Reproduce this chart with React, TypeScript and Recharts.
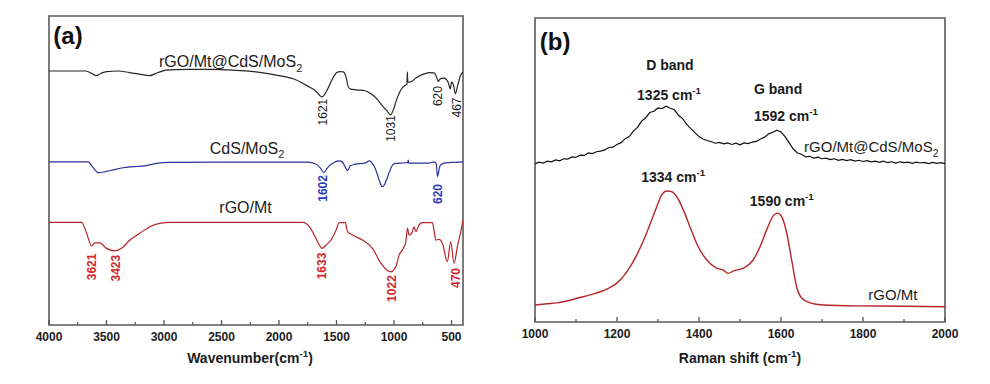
import React from 'react';
import { LineChart, Line, XAxis, YAxis, ReferenceDot, ReferenceArea } from 'recharts';

// ---------------- (a) FTIR data ----------------
const ftirCompositeWn = [4000,3750,3680,3620,3590,3550,3500,3400,3300,3200,3130,3050,2980,2800,2600,2400,2200,2000,1850,1750,1680,1626,1590,1540,1500,1470,1440,1415,1400,1380,1330,1260,1200,1157,1100,1060,1031,1000,984,950,929,897,887,884,880,860,810,750,695,650,630,615,600,565,530,510,500,480,467,445,420,400];
const ftirCompositeT = [82.2,82.2,82.2,81.2,80.7,81.4,82.0,82.2,81.7,81.1,80.7,81.7,82.5,82.7,82.7,82.5,81.9,80.7,79.3,77.3,75.7,73.8,75.4,79.3,81.6,82.0,81.9,79.9,77.3,76.4,76.1,75.9,74.8,73.5,70.9,69.3,68.0,70.2,72.2,75.4,76.7,77.7,78.0,81.9,78.6,78.6,79.9,81.1,81.7,81.6,80.3,78.8,79.6,79.9,78.6,76.4,78.6,77.3,74.8,77.7,80.9,81.9];

const ftirCdsWn = [4000,3700,3660,3620,3572,3500,3442,3370,3297,3230,3167,3066,2950,2500,2000,1750,1680,1640,1610,1580,1530,1480,1450,1420,1405,1380,1340,1250,1215,1190,1165,1140,1124,1105,1085,1066,1040,1022,990,900,880,877,872,800,700,650,632,622,612,600,573,500,400];
const ftirCdsT = [52.8,52.8,52.8,51.1,49.3,49.7,50.2,50.8,51.2,51.3,51.5,52.3,52.6,52.7,52.7,52.7,52.1,50.8,49.3,50.8,52.4,53.1,52.8,50.8,50.0,51.5,52.0,52.4,53.1,52.4,50.8,48.2,46.4,44.8,45.3,46.9,49.5,51.2,52.3,52.5,52.6,53.4,52.4,52.4,52.4,52.8,52.1,48.0,49.5,51.5,52.3,52.6,52.8];

const ftirRgoWn = [4000,3716,3673,3630,3601,3558,3500,3427,3369,3297,3210,3124,3037,2950,2500,2000,1794,1736,1693,1649,1626,1591,1548,1504,1476,1424,1404,1360,1274,1187,1114,1057,1027,984,955,926,912,897,883,868,840,825,810,782,753,666,652,637,608,579,536,507,478,449,405,400];
const ftirRgoT = [33.2,33.2,29.7,25.6,26.6,26.6,24.8,24.0,24.8,27.5,29.7,31.8,32.9,33.2,33.2,33.2,33.2,31.8,29.1,25.9,24.8,25.9,27.5,30.7,33.1,33.1,30.2,29.1,27.5,24.8,20.0,17.6,17.2,18.9,22.7,24.3,25.3,27.0,31.3,29.1,30.2,31.8,30.2,32.4,33.1,33.1,30.7,27.5,27.7,26.4,20.5,27.0,20.0,25.3,32.9,34.0];

const ftirTicks = [4000,3750,3500,3250,3000,2750,2500,2250,2000,1750,1500,1250,1000,750,500];

// peak annotations (text, wavenumber, transmittance level)
const compositePeakText = ['1621','1031','620','467'];
const compositePeakWn = [1623,1025,617,457];
const compositePeakT = [68.9,63.6,74.1,70.4];
const cdsPeakText = ['1602','620'];
const cdsPeakWn = [1619,617];
const cdsPeakT = [44.2,42.4];
const rgoPeakText = ['3621','3423','1633','1022','470'];
const rgoPeakWn = [3627,3419,1628,1020,461];
const rgoPeakT = [18.8,18.4,19.1,11.8,15.2];

const ftirNameText = ['rGO/Mt@CdS/MoS_{2}','CdS/MoS_{2}','rGO/Mt'];
const ftirNameWn = [2421,2278,2291];
const ftirNameT = [85.3,57.3,37.9];

// ---------------- (b) Raman data ----------------
const ramanCompositeShift = [1000,1010,1020,1030,1040,1050,1060,1070,1080,1090,1100,1110,1120,1130,1140,1150,1160,1170,1180,1190,1200,1210,1220,1230,1240,1250,1260,1270,1280,1290,1300,1310,1320,1330,1340,1350,1360,1370,1380,1390,1400,1410,1420,1430,1440,1450,1460,1470,1480,1490,1500,1510,1520,1530,1540,1550,1560,1570,1580,1590,1600,1610,1620,1630,1640,1650,1660,1670,1680,1690,1700,1710,1720,1730,1740,1750,1760,1770,1780,1790,1800,1810,1820,1830,1840,1850,1860,1870,1880,1890,1900,1910,1920,1930,1940,1950,1960,1970,1980,1990,2000];
const ramanCompositeI = [52.0,52.6,52.3,52.9,52.7,53.3,53.0,53.7,53.6,54.3,54.2,54.9,54.8,55.6,55.4,56.0,56.2,56.6,57.4,57.5,58.4,59.0,60.3,61.0,62.8,64.0,66.1,67.2,68.9,69.3,70.4,70.2,71.0,70.3,69.8,68.0,66.9,65.0,63.6,62.3,61.0,60.2,59.7,59.3,58.8,59.1,58.6,58.9,58.4,58.8,58.3,58.9,58.7,59.2,59.4,60.2,60.8,61.9,62.4,63.1,62.5,61.0,58.9,56.9,55.6,55.2,54.3,54.5,53.9,54.2,53.7,53.9,53.4,53.7,53.2,53.5,53.1,53.4,52.9,53.2,52.8,53.1,52.7,52.9,52.5,52.9,52.4,52.7,52.3,52.7,52.4,52.6,52.2,52.6,52.3,52.5,52.1,52.5,52.2,52.4,52.1];

const ramanRgoShift = [1000,1030,1053,1080,1102,1134,1175,1199,1224,1248,1272,1297,1309,1321,1333,1346,1362,1378,1394,1419,1443,1459,1471,1484,1508,1532,1549,1565,1581,1591,1602,1614,1626,1638,1651,1671,1703,1785,1900,2000];
const ramanRgoI = [5.6,6.0,6.3,7.0,7.8,8.9,10.8,12.7,16.5,22.0,29.2,37.9,41.8,43.1,42.9,41.2,36.8,31.3,25.9,20.4,17.7,17.1,16.0,16.8,17.7,20.4,24.8,30.3,34.9,35.8,34.6,29.2,20.4,11.6,7.8,6.3,5.6,5.3,5.2,5.0];

const ramanTicks = [1000,1100,1200,1300,1400,1500,1600,1700,1800,1900,2000];

const ramanNoteText = ['D band','1325 cm^{-1}','G band','1592 cm^{-1}','1334 cm^{-1}','1590 cm^{-1}'];
const ramanNoteShift = [1329,1327,1593,1612,1337,1602];
const ramanNoteI = [84.5,74.7,76.6,67.8,47.7,39.8];

const ramanNameText = ['rGO/Mt@CdS/MoS_{2}','rGO/Mt'];
const ramanNameShift = [1820,1873];
const ramanNameI = [57.6,8.9];

// ---------------- styling ----------------
const FONT = '"Liberation Sans", Arial, Helvetica, sans-serif';
const AXIS = '#5a5a5a';
const TEXT = '#1c1c1c';
const C_BLACK = '#262626';
const C_BLUE = '#2b3199';
const C_RED = '#b5262b';
const L_BLUE = '#2a3cb8';
const L_RED = '#d1262b';

const rows = (xs: number[], ys: number[]) => xs.map((x, i) => ({ x, y: ys[i] }));

function rich(text: string, size: number) {
  const parts = text.split(/(\^\{[^}]*\}|_\{[^}]*\})/).filter((p) => p.length > 0);
  const out: any[] = [];
  let back = 0;
  parts.forEach((p, i) => {
    if (p.startsWith('^{')) {
      out.push(<tspan key={i} dy={-size * 0.42} fontSize={size * 0.7}>{p.slice(2, -1)}</tspan>);
      back = size * 0.42;
    } else if (p.startsWith('_{')) {
      out.push(<tspan key={i} dy={size * 0.3} fontSize={size * 0.68}>{p.slice(2, -1)}</tspan>);
      back = -size * 0.3;
    } else {
      out.push(<tspan key={i} dy={back}>{p}</tspan>);
      back = 0;
    }
  });
  return out;
}

const note = (text: string, color: string, size: number, weight: string, rotate: boolean) =>
  (props: any) => {
    const vb = props.viewBox || {};
    const cx = vb.x + (vb.width || 0) / 2;
    const cy = vb.y + (vb.height || 0) / 2;
    return (
      <text
        x={cx}
        y={cy + size * 0.35}
        textAnchor="middle"
        fontFamily={FONT}
        fontSize={size}
        fontWeight={weight}
        fill={color}
        transform={rotate ? `rotate(-90 ${cx} ${cy})` : undefined}
      >
        {rich(text, size)}
      </text>
    );
  };

const makeTick = (labelEvery: number, baseline: number) => (props: any) => {
  const { x, y, payload } = props;
  const v = payload.value;
  const major = v % labelEvery === 0;
  return (
    <g>
      <line x1={x} x2={x} y1={y} y2={y - (major ? 5 : 3)} stroke={AXIS} strokeWidth={1.3} />
      {major && (
        <text x={x} y={y + baseline} textAnchor="middle" fontFamily={FONT} fontSize={12} fontWeight="bold" fill={TEXT}>
          {v}
        </text>
      )}
    </g>
  );
};

const xTitle = (text: string, dx: number, dy: number) => (props: any) => {
  const vb = props.viewBox;
  return (
    <text x={vb.x + vb.width / 2 + dx} y={vb.y + dy} textAnchor="middle" fontFamily={FONT} fontSize={14} fontWeight="bold" fill={TEXT}>
      {rich(text, 14)}
    </text>
  );
};

const yTitle = (text: string, dx: number, dyc: number) => (props: any) => {
  const vb = props.viewBox;
  const cx = vb.x - dx;
  const cy = vb.y + vb.height / 2 + dyc;
  return (
    <text x={cx} y={cy + 5} textAnchor="middle" fontFamily={FONT} fontSize={14} fontWeight="bold" fill={TEXT} transform={`rotate(-90 ${cx} ${cy})`}>
      {text}
    </text>
  );
};

const dots = (texts: string[], xs: number[], ys: number[], color: string, size: number, weight: string, rotate: boolean, key: string) =>
  texts.map((t, i) => (
    <ReferenceDot
      key={key + i}
      x={xs[i]}
      y={ys[i]}
      r={0}
      fill="none"
      stroke="none"
      label={note(t, color, size, weight, rotate)}
    />
  ));

function PanelA() {
  return (
    <LineChart width={490} height={384} margin={{ top: 16, right: 27, bottom: 29, left: 49 }}>
      <XAxis
        dataKey="x"
        type="number"
        domain={[400, 4000]}
        reversed
        allowDataOverflow
        ticks={ftirTicks}
        interval={0}
        tickSize={0}
        tickMargin={0}
        tickLine={false}
        axisLine={false}
        height={30}
        tick={makeTick(500, 16)}
        label={xTitle('Wavenumber(cm^{-1})', -6, 38)}
      />
      <YAxis type="number" domain={[0, 100]} allowDataOverflow width={0} tick={false} tickLine={false} axisLine={false}
        label={yTitle('Transmittance(% T)', 21, -7)} />
      <Line data={rows(ftirCompositeWn, ftirCompositeT)} dataKey="y" type="monotone" stroke={C_BLACK} strokeWidth={1.2} dot={false} isAnimationActive={false} />
      <Line data={rows(ftirCdsWn, ftirCdsT)} dataKey="y" type="monotone" stroke={C_BLUE} strokeWidth={1.2} dot={false} isAnimationActive={false} />
      <Line data={rows(ftirRgoWn, ftirRgoT)} dataKey="y" type="monotone" stroke={C_RED} strokeWidth={1.2} dot={false} isAnimationActive={false} />
      <ReferenceArea x1={400} x2={4000} y1={0} y2={100} fill="none" stroke={AXIS} strokeWidth={1.6} />
      {dots(['(a)'], [3835], [93.5], '#111', 24, 'bold', false, 'pa')}
      {dots(ftirNameText, ftirNameWn, ftirNameT, TEXT, 16, 'normal', false, 'fn')}
      {dots(compositePeakText, compositePeakWn, compositePeakT, TEXT, 12, 'normal', true, 'cp')}
      {dots(cdsPeakText, cdsPeakWn, cdsPeakT, L_BLUE, 12, 'bold', true, 'bp')}
      {dots(rgoPeakText, rgoPeakWn, rgoPeakT, L_RED, 12, 'bold', true, 'rp')}
    </LineChart>
  );
}

function PanelB() {
  return (
    <LineChart width={500} height={384} margin={{ top: 18, right: 45, bottom: 32, left: 45 }}>
      <XAxis
        dataKey="x"
        type="number"
        domain={[1000, 2000]}
        allowDataOverflow
        ticks={ramanTicks}
        interval={0}
        tickSize={0}
        tickMargin={0}
        tickLine={false}
        axisLine={false}
        height={30}
        tick={makeTick(200, 15.5)}
        label={xTitle('Raman shift (cm^{-1})', 0, 41)}
      />
      <YAxis type="number" domain={[0, 100]} allowDataOverflow width={0} tick={false} tickLine={false} axisLine={false}
        label={yTitle('Intensity (a.u.)', 19, 5)} />
      <Line data={rows(ramanCompositeShift, ramanCompositeI)} dataKey="y" type="linear" stroke="#111" strokeWidth={1.2} dot={false} isAnimationActive={false} />
      <Line data={rows(ramanRgoShift, ramanRgoI)} dataKey="y" type="monotone" stroke={C_RED} strokeWidth={1.4} dot={false} isAnimationActive={false} />
      <ReferenceArea x1={1000} x2={2000} y1={0} y2={100} fill="none" stroke={AXIS} strokeWidth={1.6} />
      {dots(['(b)'], [1049], [92.1], '#111', 24, 'bold', false, 'pb')}
      {dots(ramanNoteText, ramanNoteShift, ramanNoteI, TEXT, 14, 'bold', false, 'rn')}
      {dots(ramanNameText, ramanNameShift, ramanNameI, TEXT, 15, 'normal', false, 'rm')}
    </LineChart>
  );
}

export default function App() {
  return (
    <div style={{ position: 'absolute', left: 0, top: 0, width: 990, height: 384, background: '#fff' }}>
      <div style={{ position: 'absolute', left: 0, top: 0 }}>
        <PanelA />
      </div>
      <div style={{ position: 'absolute', left: 490, top: 0 }}>
        <PanelB />
      </div>
    </div>
  );
}
